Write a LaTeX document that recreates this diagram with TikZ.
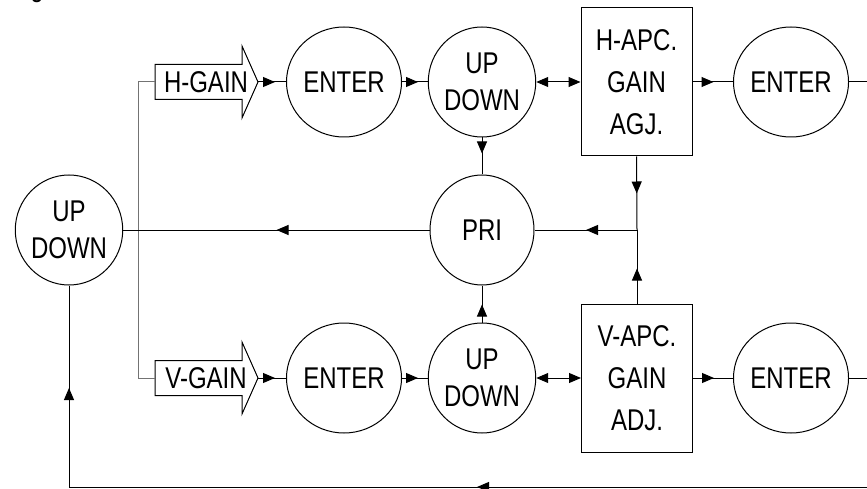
\documentclass[tikz,border=0pt]{standalone}
\usepackage{fontspec}
\setmainfont[FakeStretch=0.8]{Liberation Sans}
\usetikzlibrary{arrows.meta,shapes.geometric,decorations.markings,calc}
\begin{document}
\begin{tikzpicture}[x=1pt,y=-1pt,line width=1pt,
  tip/.tip={Triangle[length=12pt,width=10pt]},
  txt/.style={font=\fontsize{30}{37}\selectfont,align=center},
  oval/.style={ellipse,draw,minimum width=104pt,minimum height=110pt,inner sep=0pt,txt},
  apcbox/.style={rectangle,draw,minimum width=111pt,minimum height=148pt,inner sep=0pt,font=\fontsize{30}{42}\selectfont,align=center},
  gainlbl/.style={inner sep=0pt,txt},
  brk/.style={draw=black!55},
  midarr/.style={postaction={decorate},decoration={markings,mark=at position #1pt with {\arrow{tip}}}},
  midarrtwo/.style 2 args={postaction={decorate},decoration={markings,mark=at position #1pt with {\arrow{tip}},mark=at position #2pt with {\arrow{tip}}}}
]
\useasboundingbox (0,0) rectangle (867,489);
% clipped stray text at top
\node[anchor=base,txt,inner sep=0pt] (gfrag) at (37,-3) {g};

% nodes
\node[oval] (lud) at (69,230) {UP\\DOWN};
\node[gainlbl] (hg) at (206,82) {H-GAIN};
\node[gainlbl] (vg) at (206,378) {V-GAIN};
\node[oval] (ent1) at (344,82) {ENTER};
\node[oval] (ud1) at (482,82) {UP\\DOWN};
\node[apcbox] (box1) at (636.5,82) {H-APC.\\GAIN\\AGJ.};
\node[oval] (ent2) at (791,82) {ENTER};
\node[oval] (pri) at (482,230) {PRI};
\node[oval] (ent3) at (344,378) {ENTER};
\node[oval] (ud2) at (482,378) {UP\\DOWN};
\node[apcbox] (box2) at (637,378) {V-APC.\\GAIN\\ADJ.};
\node[oval] (ent4) at (791,378) {ENTER};

% gain arrow outlines
\foreach \n in {hg,vg}{
  \draw ($(\n.center)+(-51,-17.5)$) -- ($(\n.center)+(36,-17.5)$) -- ($(\n.center)+(36,-36)$)
     -- ($(\n.center)+(52,0)$) -- ($(\n.center)+(36,36)$) -- ($(\n.center)+(36,17.5)$)
     -- ($(\n.center)+(-51,17.5)$) -- cycle;
}
\coordinate (hgtip) at ($(hg.center)+(52,0)$);
\coordinate (vgtip) at ($(vg.center)+(52,0)$);
\coordinate (hgtail) at ($(hg.center)+(-51,0)$);
\coordinate (vgtail) at ($(vg.center)+(-51,0)$);
\coordinate (brtop) at (138,82);
\coordinate (brbot) at (138,378);
\coordinate (jn) at (637,230);
\coordinate (outh) at (867,82);
\coordinate (outv) at (867,378);
\coordinate (fbr) at (867,487);
\coordinate (fbl) at (69,487);

% bracket
\draw[brk] (hgtail) -- (brtop) -- (brbot) -- (vgtail);

% top row
\draw[midarr=17] (hgtip) -- (ent1.west);
\draw[midarr=16] (ent1.east) -- (ud1.west);
\draw[{tip}-{tip}] (ud1.east) -- (box1.west);
\draw[midarr=21] (box1.east) -- (ent2.west);
\draw[midarr=18] (ent2.east) -- (outh);

% bottom row
\draw[midarr=17] (vgtip) -- (ent3.west);
\draw[midarr=16] (ent3.east) -- (ud2.west);
\draw[{tip}-{tip}] (ud2.east) -- (box2.west);
\draw[midarr=21] (box2.east) -- (ent4.west);
\draw[midarr=18] (ent4.east) -- (outv);

% middle
\draw[midarr=16] (ud1.south) -- (pri.north);
\draw[midarr=18] (ud2.north) -- (pri.south);
\draw[midarr=37] (box1.south) -- (jn);
\draw[midarr=35] (box2.north) -- (jn);
\draw[midarr=51] (jn) -- (pri.east);
\draw[midarr=153] (pri.west) -- (lud.east);

% feedback
\draw[midarrtwo={390}{897}] (fbr) -- (fbl) -- (lud.south);
\end{tikzpicture}
\end{document}
